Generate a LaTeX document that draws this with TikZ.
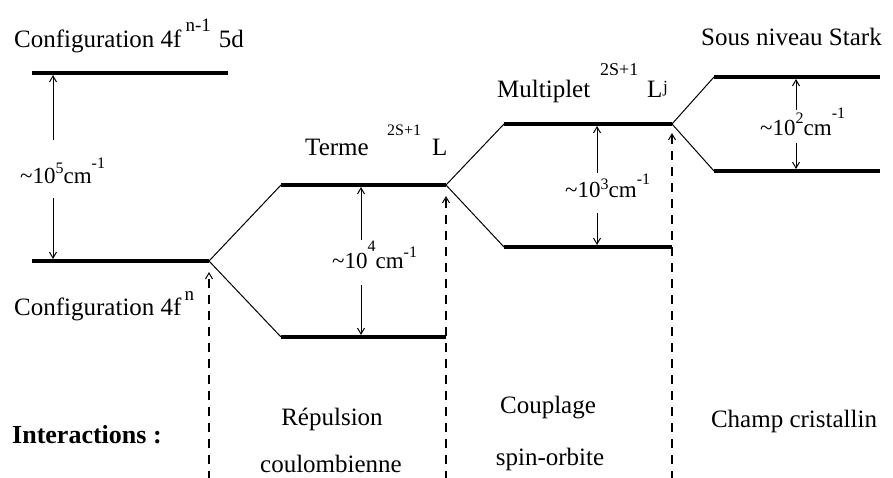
\documentclass[tikz,border=0pt]{standalone}
\usepackage{fontspec}
\setmainfont{Liberation Serif}
\usetikzlibrary{arrows.meta}
\newcommand{\upx}[3]{\raisebox{#1}{\fontsize{#2}{#2}\selectfont #3}}
\begin{document}
\begin{tikzpicture}[x=1pt,y=-1pt,
  levelline/.style={line width=3.2pt},
  splitline/.style={line width=1pt},
  gaparrow/.style={line width=1pt,-{Straight Barb[length=6pt,width=7pt,line width=1pt]}},
  dasharrow/.style={line width=1.2pt,dash pattern=on 9pt off 7pt,-{Straight Barb[length=6pt,width=7pt,line width=1pt]}},
  txt/.style={inner sep=0pt,anchor=base west,font=\fontsize{25}{30}\selectfont},
  suptxt/.style={inner sep=0pt,anchor=base west,font=\fontsize{16}{16}\selectfont},
  cmtxt/.style={inner sep=0pt,anchor=base west,font=\fontsize{23}{28}\selectfont},
  ctxt/.style={inner sep=0pt,anchor=base,font=\fontsize{25}{30}\selectfont}]
\useasboundingbox (0,0) rectangle (893,477);
\fill[white] (0,0) rectangle (893,477);

% level coordinates
\coordinate (A1) at (32,73);  \coordinate (A2) at (228,73);
\coordinate (B1) at (32,261); \coordinate (B2) at (209,261);
\coordinate (C1) at (281,185); \coordinate (C2) at (446,185);
\coordinate (D1) at (281,337); \coordinate (D2) at (446,337);
\coordinate (E1) at (504,124); \coordinate (E2) at (672,124);
\coordinate (F1) at (504,247); \coordinate (F2) at (672,247);
\coordinate (G1) at (714,77);  \coordinate (G2) at (880,77);
\coordinate (H1) at (714,171); \coordinate (H2) at (880,171);

% levels
\draw[levelline] (A1) -- (A2);
\draw[levelline] (B1) -- (B2);
\draw[levelline] (C1) -- (C2);
\draw[levelline] (D1) -- (D2);
\draw[levelline] (E1) -- (E2);
\draw[levelline] (F1) -- (F2);
\draw[levelline] (G1) -- (G2);
\draw[levelline] (H1) -- (H2);

% splittings
\draw[splitline] (C1) -- (B2) -- (D1);
\draw[splitline] (E1) -- (C2) -- (F1);
\draw[splitline] (G1) -- (E2) -- (H1);

% dashed interaction arrows
\coordinate (p1) at (209,480); \coordinate (t1) at (209,272);
\coordinate (p2) at (446,480); \coordinate (t2) at (446,196);
\coordinate (p3) at (672,480); \coordinate (t3) at (672,133);
\draw[dasharrow] (p1) -- (t1);
\draw[dasharrow] (p2) -- (t2);
\draw[dasharrow] (p3) -- (t3);

% energy gap arrows
\coordinate (a5u) at (53,140); \coordinate (a5ut) at (53,75);
\coordinate (a5d) at (53,198); \coordinate (a5dt) at (53,259);
\draw[gaparrow] (a5u) -- (a5ut);
\draw[gaparrow] (a5d) -- (a5dt);
\coordinate (a4u) at (361,240); \coordinate (a4ut) at (361,187);
\coordinate (a4d) at (361,285); \coordinate (a4dt) at (361,335);
\draw[gaparrow] (a4u) -- (a4ut);
\draw[gaparrow] (a4d) -- (a4dt);
\coordinate (a3u) at (597,173); \coordinate (a3ut) at (597,126);
\coordinate (a3d) at (597,213); \coordinate (a3dt) at (597,245);
\draw[gaparrow] (a3u) -- (a3ut);
\draw[gaparrow] (a3d) -- (a3dt);
\coordinate (a2u) at (796,110); \coordinate (a2ut) at (796,79);
\coordinate (a2d) at (796,143); \coordinate (a2dt) at (796,169);
\draw[gaparrow] (a2u) -- (a2ut);
\draw[gaparrow] (a2d) -- (a2dt);

% level labels
\node[txt] (cfg5d) at (14,47) {Configuration 4f\hspace{4pt}\upx{16pt}{19}{n-1}\hspace{8pt}5d};
\node[txt] (cfg4f) at (14,315) {Configuration 4f\hspace{3pt}\upx{15pt}{19}{n}};
\node[txt] (terme) at (305,155) {Terme};
\node[suptxt] (termesup) at (387,135) {2S+1};
\node[txt] (termeL) at (432,155) {L};
\node[txt] (multi) at (497,97) {Multiplet};
\node[suptxt,font=\fontsize{18}{18}\selectfont] (multisup) at (600,75) {2S+1};
\node[txt] (multiL) at (647,97) {L};
\node[suptxt,font=\fontsize{17}{17}\selectfont] (multij) at (663,92) {j};
\node[txt] (stark) at (701,45) {Sous niveau Stark};

% energy labels
\node[cmtxt] (e5) at (20,183) {\textasciitilde10\upx{10pt}{16}{5}cm\upx{15pt}{16}{-1}};
\node[cmtxt] (e4) at (332,268) {\textasciitilde10\upx{17pt}{16}{4}cm\upx{11pt}{16}{-1}};
\node[cmtxt] (e3) at (565,197) {\textasciitilde10\upx{8pt}{16}{3}cm\upx{13pt}{16}{-1}};
\node[cmtxt] (e2) at (760,135) {\textasciitilde10\upx{12pt}{16}{2}cm\upx{17pt}{16}{-1}};

% interactions
\node[txt,font=\fontsize{26}{30}\selectfont\bfseries] (inter) at (12,443) {Interactions :};
\node[ctxt] (rep1) at (332,425) {Répulsion};
\node[ctxt] (rep2) at (331,472) {coulombienne};
\node[ctxt] (cou1) at (548,413) {Couplage};
\node[ctxt] (cou2) at (550,465) {spin-orbite};
\node[ctxt] (champ) at (794,427) {Champ cristallin};
\end{tikzpicture}
\end{document}
